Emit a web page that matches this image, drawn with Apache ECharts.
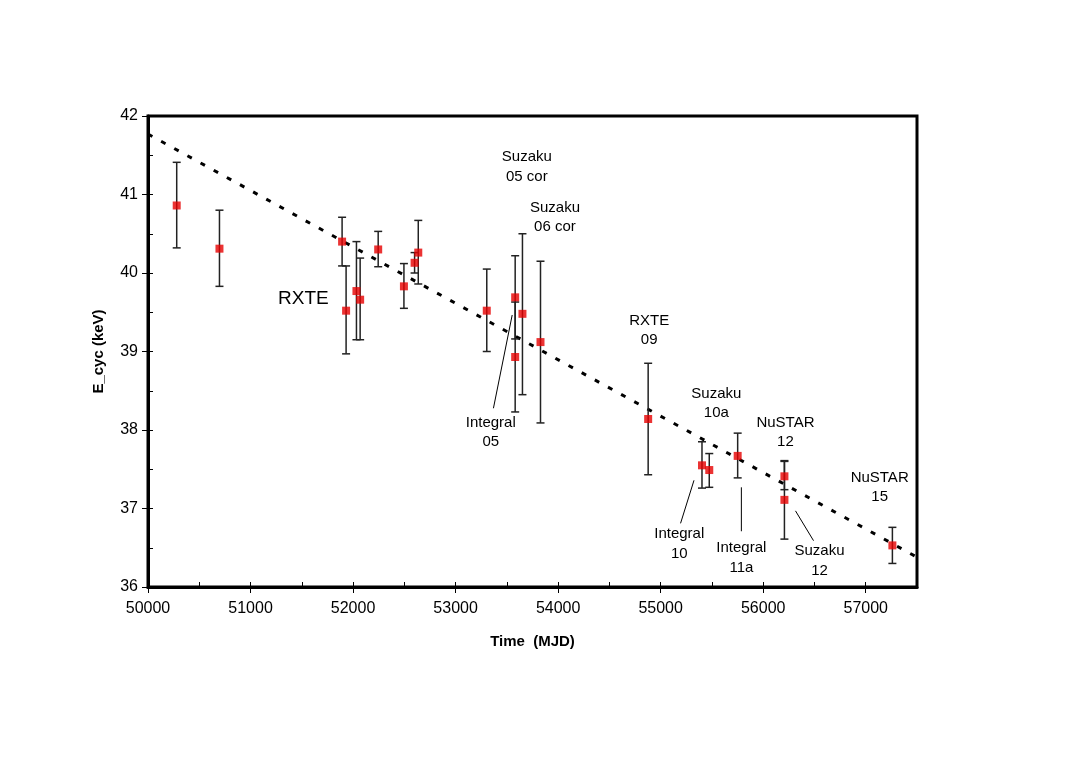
<!DOCTYPE html>
<html>
<head>
<meta charset="utf-8">
<script src="https://cdn.jsdelivr.net/npm/echarts@6/dist/echarts.min.js"></script>
<style>
html,body{margin:0;padding:0;background:#fff;}
#chart{width:1080px;height:763px;}
</style>
</head>
<body>
<div id="chart"></div>
<script>
// Observation times (MJD)
const mjd = [50280, 50697, 51893, 51932, 52033, 52069, 52245, 52496, 52600, 52636, 53304, 53581, 53581, 53652, 53828, 54878, 55403, 55474, 55751, 56207, 56207, 57260];
// Cyclotron line energy (keV)
const ecyc = [40.86, 40.31, 40.40, 39.52, 39.77, 39.66, 40.30, 39.83, 40.13, 40.26, 39.52, 39.69, 38.93, 39.48, 39.12, 38.14, 37.55, 37.49, 37.67, 37.41, 37.11, 36.53];
// Error bar upper / lower bounds (keV)
const errHi = [41.41, 40.80, 40.71, 40.09, 40.40, 40.19, 40.53, 40.12, 40.26, 40.67, 40.05, 40.22, 39.63, 40.50, 40.15, 38.85, 37.85, 37.70, 37.96, 37.61, 37.60, 36.76];
const errLo = [40.32, 39.83, 40.09, 38.97, 39.15, 39.15, 40.08, 39.55, 40.00, 39.86, 39.00, 39.16, 38.23, 38.45, 38.09, 37.43, 37.26, 37.27, 37.39, 37.24, 36.61, 36.30];
// Linear trend endpoints [MJD, keV]
const trendX = [50000, 57500];
const trendY = [41.77, 36.38];
// Annotation labels [MJD, keV, text]
const annoX = [51515, 53695, 53969, 53343, 54888, 55543, 56217, 57136, 55181, 55787, 56549];
const annoY = [39.67, 41.35, 40.71, 37.97, 39.27, 38.34, 37.97, 37.27, 36.55, 36.37, 36.33];
const annoText = ['RXTE', 'Suzaku\n05 cor', 'Suzaku\n06 cor', 'Integral\n05', 'RXTE\n09', 'Suzaku\n10a', 'NuSTAR\n12', 'NuSTAR\n15', 'Integral\n10', 'Integral\n11a', 'Suzaku\n12'];
// Leader lines [x1, y1, x2, y2]
const leaderX1 = [53552, 55325, 55787, 56315];
const leaderY1 = [39.465, 37.359, 37.27, 36.97];
const leaderX2 = [53369, 55194, 55787, 56491];
const leaderY2 = [38.277, 36.811, 36.71, 36.59];

const FONT = '"Liberation Sans", Arial, sans-serif';
const chart = echarts.init(document.getElementById('chart'), null, {renderer: 'canvas'});

const pts = mjd.map((x, i) => [x, ecyc[i]]);
const errData = mjd.map((x, i) => [x, ecyc[i], errLo[i], errHi[i]]);
const annoData = annoX.map((x, i) => [x, annoY[i]]);
const leaderData = leaderX1.map((x, i) => [x, leaderY1[i], leaderX2[i], leaderY2[i]]);

const option = {
  backgroundColor: '#fff',
  animation: false,
  grid: {left: 148, right: 163, top: 116, bottom: 176, show: true, borderColor: '#000', borderWidth: 3, backgroundColor: 'transparent'},
  xAxis: [{
    type: 'value', min: 50000, max: 57500, interval: 1000,
    name: 'Time  (MJD)', nameLocation: 'middle', nameGap: 47,
    nameTextStyle: {fontFamily: FONT, fontSize: 15, fontWeight: 'bold', color: '#000'},
    axisLine: {show: true, lineStyle: {color: '#000', width: 3}},
    axisTick: {show: true, inside: false, length: 6, lineStyle: {color: '#000', width: 1}},
    axisLabel: {fontFamily: FONT, fontSize: 16, color: '#000', margin: 14, showMaxLabel: false,
      formatter: v => String(v)},
    splitLine: {show: false}
  }, {
    type: 'value', min: 50000, max: 57500, interval: 500, position: 'bottom',
    axisLine: {show: false}, axisLabel: {show: false}, splitLine: {show: false},
    axisTick: {show: true, inside: true, length: 5, lineStyle: {color: '#000', width: 1}}
  }],
  yAxis: [{
    type: 'value', min: 36, max: 42, interval: 1,
    name: 'E_cyc (keV)', nameLocation: 'middle', nameGap: 42, nameRotate: 90,
    nameTextStyle: {fontFamily: FONT, fontSize: 15, fontWeight: 'bold', color: '#000'},
    axisLine: {show: true, lineStyle: {color: '#000', width: 3}},
    axisTick: {show: true, inside: false, length: 6, lineStyle: {color: '#000', width: 1}},
    axisLabel: {fontFamily: FONT, fontSize: 16, color: '#000', margin: 10},
    splitLine: {show: false}
  }, {
    type: 'value', min: 36, max: 42, interval: 0.5, position: 'left',
    axisLine: {show: false}, axisLabel: {show: false}, splitLine: {show: false},
    axisTick: {show: true, inside: true, length: 5, lineStyle: {color: '#000', width: 1}}
  }],
  series: [
    {
      type: 'line', data: trendX.map((x, i) => [x, trendY[i]]), symbol: 'none', z: 2,
      lineStyle: {color: '#000', width: 3, type: [5, 10]}
    },
    {
      type: 'custom', data: errData, z: 3,
      renderItem: function (params, api) {
        const x = api.value(0);
        const pHi = api.coord([x, api.value(3)]);
        const pLo = api.coord([x, api.value(2)]);
        const w = 4;
        const st = {stroke: '#222', lineWidth: 1.5};
        return {type: 'group', children: [
          {type: 'line', shape: {x1: pHi[0], y1: pHi[1], x2: pLo[0], y2: pLo[1]}, style: st},
          {type: 'line', shape: {x1: pHi[0] - w, y1: pHi[1], x2: pHi[0] + w, y2: pHi[1]}, style: st},
          {type: 'line', shape: {x1: pLo[0] - w, y1: pLo[1], x2: pLo[0] + w, y2: pLo[1]}, style: st}
        ]};
      }
    },
    {
      type: 'scatter', data: pts, symbol: 'rect', symbolSize: 8, z: 4,
      itemStyle: {color: '#e60000'}
    },
    {
      type: 'custom', data: leaderData, z: 3,
      renderItem: function (params, api) {
        const a = api.coord([api.value(0), api.value(1)]);
        const b = api.coord([api.value(2), api.value(3)]);
        return {type: 'line', shape: {x1: a[0], y1: a[1], x2: b[0], y2: b[1]}, style: {stroke: '#000', lineWidth: 1}};
      }
    },
    {
      type: 'custom', data: annoData, z: 5,
      renderItem: function (params, api) {
        const p = api.coord([api.value(0), api.value(1)]);
        const t = annoText[params.dataIndex];
        const big = t === 'RXTE';
        return {type: 'text', x: p[0], y: p[1], style: {
          text: t, fill: '#000', align: 'center', verticalAlign: 'middle',
          font: (big ? '19px ' : '15px ') + FONT, lineHeight: big ? 22 : 19.5
        }};
      }
    }
  ]
};
chart.setOption(option);
</script>
</body>
</html>
